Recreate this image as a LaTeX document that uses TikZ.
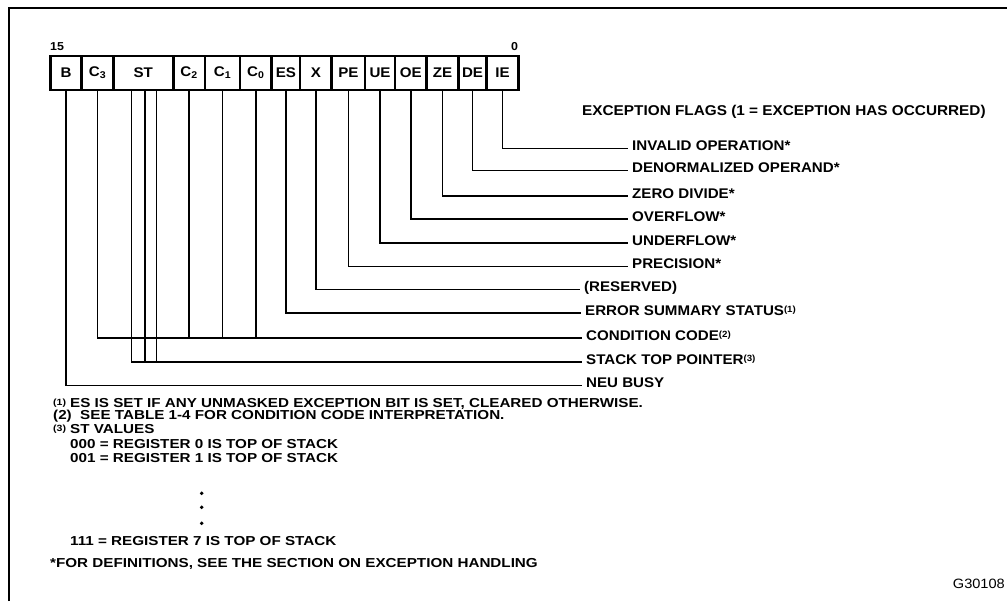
\documentclass[tikz,border=0pt]{standalone}
\usepackage{fontspec}
\newfontfamily\labfont{Liberation Sans}[FakeStretch=1.08]
\newfontfamily\notefont{Liberation Sans}[FakeStretch=1.17]
\usetikzlibrary{calc}
\begin{document}
\begin{tikzpicture}[x=1pt,y=-1pt,
  conn/.style={line width=1.5pt},
  cellbox/.style={draw, line width=2.6pt, minimum height=34pt, inner sep=0pt,
    font=\labfont\bfseries\fontsize{14}{14}\selectfont},
  lbl/.style={anchor=west, inner xsep=4pt, inner ysep=0pt, text height=4pt, text depth=0pt,
    font=\labfont\bfseries\fontsize{14}{14}\selectfont},
  note/.style={anchor=base west, inner sep=0pt, font=\notefont\bfseries\fontsize{13}{13}\selectfont},
  sup/.style={anchor=base west, inner sep=0pt, font=\notefont\bfseries\fontsize{9}{9}\selectfont}]
\useasboundingbox (0,0) rectangle (1007,605);
% frame
\draw[line width=1.6pt] (9,601) -- (9,8) -- (1007,8);
% register cells
\foreach \n/\l/\r/\t in {b/50.7/81.7/B, c3/81.7/113.3/C\textsubscript{3}, st/113.3/173.3/ST,
  c2/173.3/205/C\textsubscript{2}, c1/205/240/C\textsubscript{1}, c0/240/271.7/C\textsubscript{0},
  es/271.7/300/ES, x/300/331.7/X, pe/331.7/365/PE, ue/365/395/UE, oe/395/426.7/OE,
  ze/426.7/458.3/ZE, de/458.3/486.7/DE, ie/486.7/518.3/IE}{
  \pgfmathsetmacro\w{\r-\l}
  \pgfmathsetmacro\cx{(\l+\r)/2}
  \node[cellbox, minimum width=\w pt] (\n) at (\cx,73) {\t};
}
\node[anchor=base west, inner sep=0pt, font=\labfont\bfseries\fontsize{11.5}{11.5}\selectfont] (hi) at (50,50) {15};
\node[anchor=base east, inner sep=0pt, font=\labfont\bfseries\fontsize{11.5}{11.5}\selectfont] (lo) at (518.3,50) {0};
% ST bit points
\coordinate (st2) at (131.7,90);
\coordinate (st1) at (145,90);
\coordinate (st0) at (156.7,90);
% header
\node[anchor=base west, inner sep=0pt, font=\labfont\bfseries\fontsize{14.2}{14.2}\selectfont] (hdr) at (582,115) {EXCEPTION FLAGS (1 = EXCEPTION HAS OCCURRED)};
% labels
\node[lbl] (lie) at (628,148.5) {INVALID OPERATION*};
\node[lbl] (lde) at (628,170.5) {DENORMALIZED OPERAND*};
\node[lbl] (lze) at (628,196) {ZERO DIVIDE*};
\node[lbl] (loe) at (628,219) {OVERFLOW*};
\node[lbl] (lue) at (628,243) {UNDERFLOW*};
\node[lbl] (lpe) at (628,266.5) {PRECISION*};
\node[lbl] (lx) at (580,289.5) {(RESERVED)};
\node[lbl] (les) at (581,313) {ERROR SUMMARY STATUS\raisebox{2.5pt}{\fontsize{9}{9}\selectfont(1)}};
\node[lbl] (lcc) at (582,338) {CONDITION CODE\raisebox{2.5pt}{\fontsize{9}{9}\selectfont(2)}};
\node[lbl] (lst) at (582,362) {STACK TOP POINTER\raisebox{2.5pt}{\fontsize{9}{9}\selectfont(3)}};
\node[lbl] (lb) at (582,385.5) {NEU BUSY};
% connectors
\draw[conn] (ie.south) |- (lie.west);
\draw[conn] (de.south) |- (lde.west);
\draw[conn] (ze.south) |- (lze.west);
\draw[conn] (oe.south) |- (loe.west);
\draw[conn] (ue.south) |- (lue.west);
\draw[conn] (pe.south) |- (lpe.west);
\draw[conn] (x.south) |- (lx.west);
\draw[conn] (es.south) |- (les.west);
\draw[conn] (c3.south) |- (lcc.west);
\draw[conn] (c2.south) -- (c2.south |- lcc.west);
\draw[conn] (c1.south) -- (c1.south |- lcc.west);
\draw[conn] (c0.south) -- (c0.south |- lcc.west);
\draw[conn] (st2) |- (lst.west);
\draw[conn] (st1) -- (st1 |- lst.west);
\draw[conn] (st0) -- (st0 |- lst.west);
\draw[conn] (b.south) |- (lb.west);
% footnotes
\node[sup] (n1s) at (53,405) {(1)};
\node[note] (n1) at (70,407.7) {ES IS SET IF ANY UNMASKED EXCEPTION BIT IS SET, CLEARED OTHERWISE.};
\node[note] (n2) at (53,419.5) {(2)\ \ SEE TABLE 1-4 FOR CONDITION CODE INTERPRETATION.};
\node[sup] (n3s) at (53,431) {(3)};
\node[note] (n3) at (70,433.7) {ST VALUES};
\node[note] (n4) at (70,448.5) {000 = REGISTER 0 IS TOP OF STACK};
\node[note] (n5) at (70,462) {001 = REGISTER 1 IS TOP OF STACK};
\fill (201.7,493.3) circle (1.9pt);
\fill (201.7,507.3) circle (1.9pt);
\fill (201.7,523.3) circle (1.9pt);
\node[note] (n6) at (70,545) {111 = REGISTER 7 IS TOP OF STACK};
\node[note] (n7) at (50,567.5) {*FOR DEFINITIONS, SEE THE SECTION ON EXCEPTION HANDLING};
\node[anchor=base east, inner sep=0pt, font=\labfont\fontsize{13.5}{13.5}\selectfont] (gid) at (1005,588) {G30108};
\end{tikzpicture}
\end{document}
